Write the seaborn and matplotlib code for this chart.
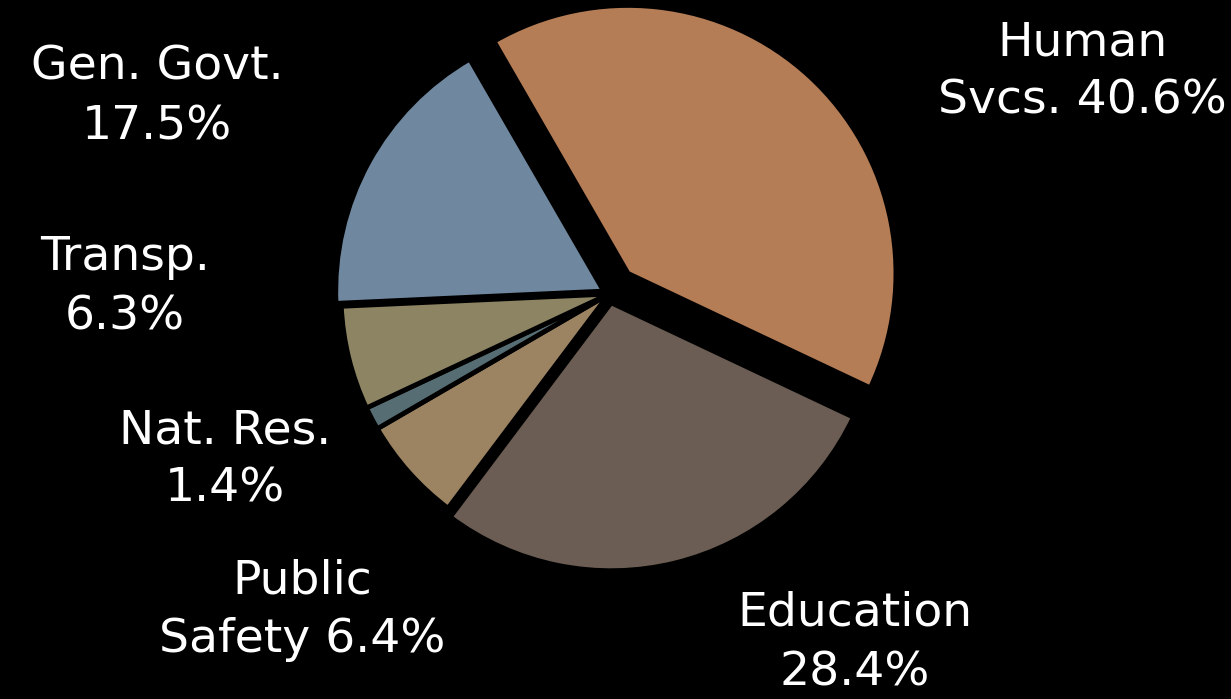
import matplotlib
matplotlib.use("Agg")
import matplotlib.pyplot as plt
import seaborn as sns

categories = ["Human Svcs.", "Education", "Public Safety", "Nat. Res.", "Transp.", "Gen. Govt."]
shares = [40.6, 28.4, 6.4, 1.4, 6.3, 17.5]
label_texts = ["Human\nSvcs. 40.6%", "Education\n28.4%", "Public\nSafety 6.4%",
               "Nat. Res.\n1.4%", "Transp.\n6.3%", "Gen. Govt.\n17.5%"]
colors = ["#B57D56", "#6B5D53", "#9C8463", "#566E73", "#8C8462", "#6F889F"]
# explode offsets in pixel units (matplotlib uses absolute data units)
explode = [28, 9, 0, 0, 0, 6]

sns.set_theme(style="dark")
plt.rcParams["font.family"] = ["DejaVu Sans"]

W, H = 1231, 699
fig = plt.figure(figsize=(W / 100, H / 100), dpi=100, facecolor="black")
ax = fig.add_axes([0, 0, 1, 1])
ax.set_facecolor("black")

ax.pie(shares, colors=colors, explode=explode, startangle=120, counterclock=False,
       center=(609, H - 294), radius=268,
       wedgeprops=dict(edgecolor="black", linewidth=3.5))

label_pos = [(1082, 72), (855, 643), (302, 610), (225, 460), (125, 287), (157, 97)]
for txt, (x, y) in zip(label_texts, label_pos):
    ax.text(x, H - y, txt, ha="center", va="center", color="white",
            fontsize=34, linespacing=1.4)

ax.set_xlim(0, W)
ax.set_ylim(0, H)
ax.set_aspect("equal")
ax.axis("off")
fig.savefig("out.png", dpi=100, facecolor="black")
